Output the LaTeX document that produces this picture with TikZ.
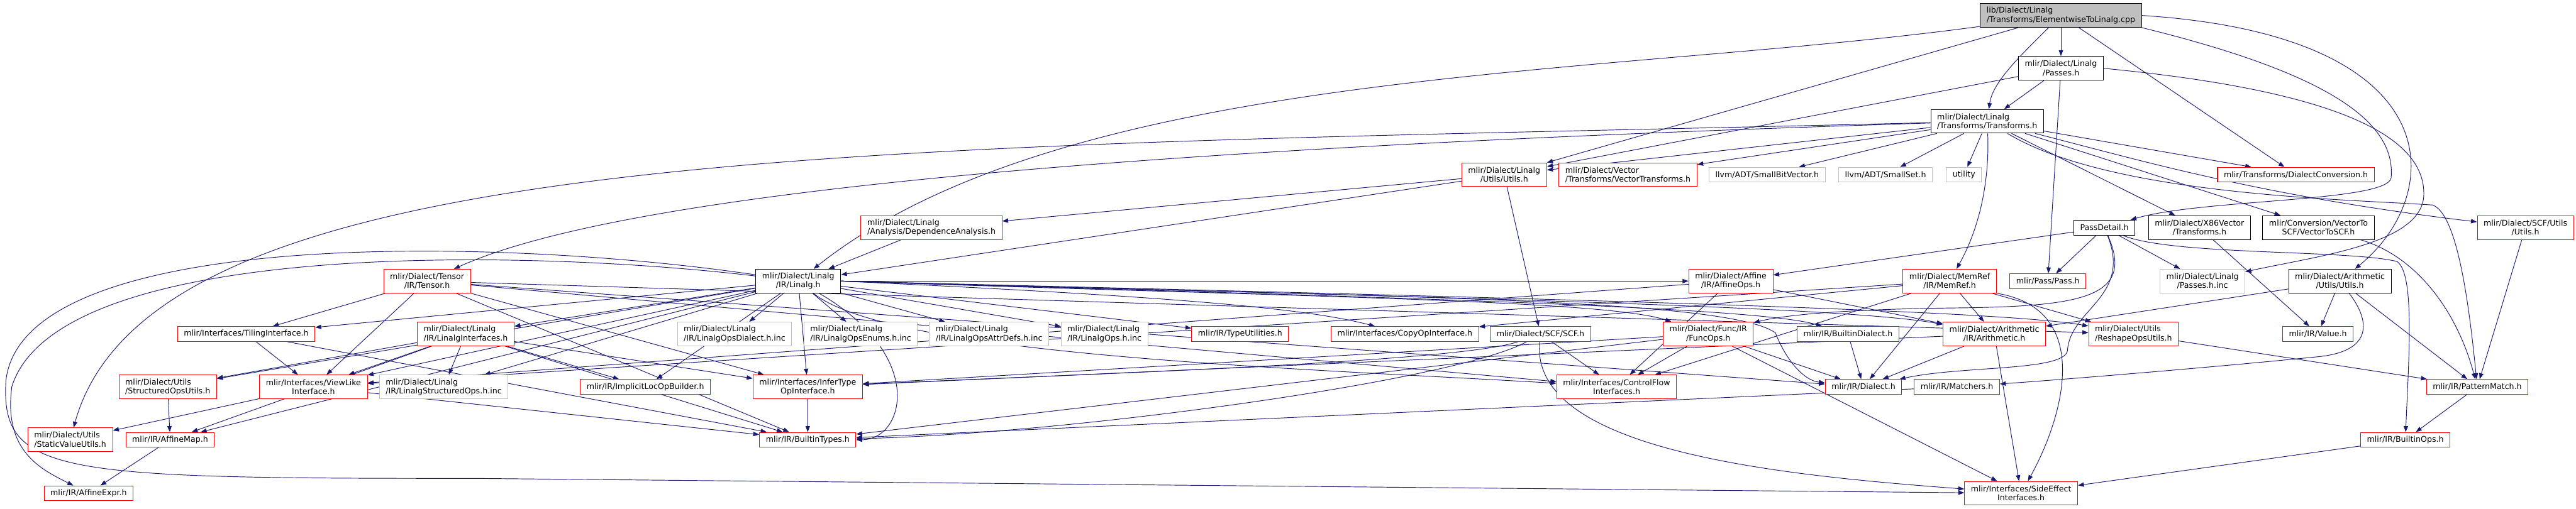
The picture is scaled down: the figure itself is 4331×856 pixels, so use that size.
\documentclass[tikz,border=0pt]{standalone}
\usepackage{fontspec}
\setmainfont{DejaVu Sans}
\usetikzlibrary{arrows.meta,backgrounds}
\definecolor{edgeblue}{HTML}{191970}
\definecolor{incred}{HTML}{FF0000}
\definecolor{sysgray}{HTML}{BFBFBF}

\begin{document}
\begin{tikzpicture}[
    x=0.75pt, y=-0.75pt,
    hfile/.style={draw=incred, line width=0.8pt, fill=white, inner xsep=8pt,
                  inner ysep=2pt, minimum height=18.75pt, align=center,
                  font=\fontsize{10}{11.25}\selectfont},
    hdone/.style={hfile, draw=black},
    hsys/.style={hfile, draw=sysgray},
    hroot/.style={hfile, draw=black, fill=sysgray},
    two/.style={minimum height=30pt},
    dep/.style={edgeblue, line width=0.75pt, -{Triangle[length=7.5pt, width=5.5pt]}},
]
\useasboundingbox (0,0) rectangle (4331,856);

% ---- top rows: the file and its direct includes ----
\node[hroot, two, align=left] (root) at (3465,26) {lib/Dialect/Linalg\\/Transforms/ElementwiseToLinalg.cpp};
\node[hdone, two] (passes) at (3465,115) {mlir/Dialect/Linalg\\/Passes.h};
\node[hdone, two, align=left] (xforms) at (3341,204) {mlir/Dialect/Linalg\\/Transforms/Transforms.h};
\node[hfile, two] (lutils) at (2529,294) {mlir/Dialect/Linalg\\/Utils/Utils.h};
\node[hfile, two, align=left] (vtrans) at (2737,294) {mlir/Dialect/Vector\\/Transforms/VectorTransforms.h};
\node[hsys] (sbv) at (2971,294) {llvm/ADT/SmallBitVector.h};
\node[hsys] (sset) at (3170,294) {llvm/ADT/SmallSet.h};
\node[hsys] (util) at (3302,294) {utility};
\node[hfile] (dconv) at (3860,294) {mlir/Transforms/DialectConversion.h};
\node[hfile, two, align=left] (deps) at (1566,383) {mlir/Dialect/Linalg\\/Analysis/DependenceAnalysis.h};
\node[hdone] (pdetail) at (3538,383) {PassDetail.h};
\node[hdone, two] (x86) at (3698,383) {mlir/Dialect/X86Vector\\/Transforms.h};
\node[hdone, two] (v2scf) at (3898,383) {mlir/Conversion/VectorTo\\SCF/VectorToSCF.h};
\node[hfile, two] (scfutils) at (4246,383) {mlir/Dialect/SCF/Utils\\/Utils.h};

% ---- middle rows ----
\node[hfile, two] (tensor) at (718,473) {mlir/Dialect/Tensor\\/IR/Tensor.h};
\node[hdone, two] (linalg) at (1342,473) {mlir/Dialect/Linalg\\/IR/Linalg.h};
\node[hfile, two] (affops) at (2910,473) {mlir/Dialect/Affine\\/IR/AffineOps.h};
\node[hfile, two] (memref) at (3278,473) {mlir/Dialect/MemRef\\/IR/MemRef.h};
\node[hfile] (pass) at (3443,473) {mlir/Pass/Pass.h};
\node[hsys, two] (passinc) at (3703,473) {mlir/Dialect/Linalg\\/Passes.h.inc};
\node[hdone, two] (autils) at (3934,473) {mlir/Dialect/Arithmetic\\/Utils/Utils.h};

\node[hfile] (tiling) at (414,562) {mlir/Interfaces/TilingInterface.h};
\node[hfile, two, align=left] (linterf) at (783,562) {mlir/Dialect/Linalg\\/IR/LinalgInterfaces.h};
\node[hsys, two, align=left] (opsdial) at (1235,562) {mlir/Dialect/Linalg\\/IR/LinalgOpsDialect.h.inc};
\node[hsys, two, align=left] (opsenum) at (1447,562) {mlir/Dialect/Linalg\\/IR/LinalgOpsEnums.h.inc};
\node[hsys, two, align=left] (opsattr) at (1663,562) {mlir/Dialect/Linalg\\/IR/LinalgOpsAttrDefs.h.inc};
\node[hsys, two, align=left] (opsinc) at (1857,562) {mlir/Dialect/Linalg\\/IR/LinalgOps.h.inc};
\node[hfile] (typeutil) at (2085,562) {mlir/IR/TypeUtilities.h};
\node[hfile] (copyop) at (2362,562) {mlir/Interfaces/CopyOpInterface.h};
\node[hfile] (scf) at (2590,562) {mlir/Dialect/SCF/SCF.h};
\node[hfile, two] (funcops) at (2872,562) {mlir/Dialect/Func/IR\\/FuncOps.h};
\node[hfile] (bdial) at (3107,562) {mlir/IR/BuiltinDialect.h};
\node[hfile, two] (arith) at (3353,562) {mlir/Dialect/Arithmetic\\/IR/Arithmetic.h};
\node[hfile, two, align=left] (reshape) at (3587,562) {mlir/Dialect/Utils\\/ReshapeOpsUtils.h};
\node[hfile] (value) at (3897,562) {mlir/IR/Value.h};

% ---- bottom rows ----
\node[hfile, two, align=left] (sou) at (282,651) {mlir/Dialect/Utils\\/StructuredOpsUtils.h};
\node[hfile, two] (viewlike) at (527,651) {mlir/Interfaces/ViewLike\\Interface.h};
\node[hsys, two, align=left] (structinc) at (746,651) {mlir/Dialect/Linalg\\/IR/LinalgStructuredOps.h.inc};
\node[hfile] (implicit) at (1085,651) {mlir/IR/ImplicitLocOpBuilder.h};
\node[hfile, two] (itype) at (1358,651) {mlir/Interfaces/InferType\\OpInterface.h};
\node[hfile, two] (cflow) at (2718,651) {mlir/Interfaces/ControlFlow\\Interfaces.h};
\node[hfile] (dialect) at (3133,651) {mlir/IR/Dialect.h};
\node[hfile] (matchers) at (3290,651) {mlir/IR/Matchers.h};
\node[hfile] (pmatch) at (4165,651) {mlir/IR/PatternMatch.h};

\node[hfile, two, align=left] (svu) at (118,740) {mlir/Dialect/Utils\\/StaticValueUtils.h};
\node[hfile] (amap) at (286,740) {mlir/IR/AffineMap.h};
\node[hfile] (btypes) at (1358,740) {mlir/IR/BuiltinTypes.h};
\node[hfile] (bops) at (4044,740) {mlir/IR/BuiltinOps.h};
\node[hfile] (aexpr) at (149,830) {mlir/IR/AffineExpr.h};
\node[hfile, two] (sideeff) at (3398,830) {mlir/Interfaces/SideEffect\\Interfaces.h};

% ---- include edges ----
\begin{scope}[on background layer]
\foreach \a/\b in {root/passes, root/lutils, root/dconv,
    passes/xforms, passes/lutils, passes/pass,
    xforms/sbv, xforms/sset, xforms/util, xforms/lutils, xforms/vtrans,
    xforms/x86, xforms/v2scf, xforms/dconv,
    pdetail/affops, pdetail/pass, pdetail/passinc,
    x86/value, scfutils/pmatch, autils/arith, autils/value, autils/pmatch,
    pmatch/bops, bops/sideeff,
    lutils/deps, lutils/linalg, lutils/scf, deps/linalg,
    scf/cflow, tensor/tiling, tensor/viewlike, tensor/itype, tensor/cflow,
    tensor/reshape, tensor/dialect, tensor/btypes,
    linalg/linterf, linalg/opsdial, linalg/opsenum, linalg/opsattr,
    linalg/opsinc, linalg/structinc, linalg/typeutil, linalg/implicit,
    linalg/itype, linalg/viewlike, linalg/tiling, linalg/sou, linalg/amap,
    linalg/affops,
    linterf/structinc, linterf/sou, linterf/viewlike, linterf/implicit,
    linterf/itype, linterf/btypes, linterf/amap,
    tiling/viewlike, tiling/btypes, sou/amap, viewlike/svu, viewlike/btypes,
    amap/aexpr, itype/btypes,
    affops/cflow, affops/arith, affops/viewlike,
    memref/copyop, memref/viewlike, memref/reshape, memref/arith,
    memref/dialect, memref/cflow,
    funcops/cflow, funcops/itype, funcops/btypes, funcops/dialect,
    funcops/sideeff, bdial/dialect, arith/dialect, arith/sideeff,
    arith/itype, reshape/pmatch, matchers/btypes}
    \draw[dep] (\a) -- (\b);

% routed edges
\draw[dep] (root) .. controls (3390,100) and (3350,140) .. (xforms);
\draw[dep] (root) .. controls (2700,130) and (1800,110) .. (linalg);
\draw[dep] (root.east) .. controls (4130,60) and (4110,330) .. (autils);
\draw[dep] (root.south east) .. controls (3900,120) and (4030,200) .. (4020,300)
    .. controls (4010,340) and (3700,335) .. (pdetail);
\draw[dep] (passes.east) .. controls (3900,150) and (4080,220) .. (4075,330)
    .. controls (4070,410) and (3900,430) .. (passinc);
\draw[dep] (xforms) .. controls (2200,240) and (1100,300) .. (tensor);
\draw[dep] (xforms) .. controls (1500,250) and (260,230) .. (svu);
\draw[dep] (xforms) .. controls (3345,300) and (3330,380) .. (memref);
\draw[dep] (xforms) .. controls (3600,270) and (3800,330) .. (scfutils);
\draw[dep] (xforms) .. controls (3550,330) and (3950,335) .. (4090,345)
    .. controls (4130,360) and (4150,500) .. (pmatch);
\draw[dep] (v2scf) .. controls (4060,430) and (4130,520) .. (pmatch);
\draw[dep] (pdetail) .. controls (3590,500) and (3500,515) .. (3300,518)
    .. controls (3100,520) and (3000,530) .. (funcops);
\draw[dep] (pdetail) .. controls (3585,500) and (3480,520) .. (3476,590)
    .. controls (3470,625) and (3300,615) .. (dialect);
\draw[dep] (pdetail) .. controls (3650,430) and (3950,420) .. (4030,440)
    .. controls (4060,460) and (4050,600) .. (bops);
\draw[dep] (autils) .. controls (3985,540) and (3990,590) .. (3900,600)
    .. controls (3700,620) and (3450,640) .. (matchers);
\draw[dep] (memref.south east) .. controls (3520,520) and (3470,700) .. (sideeff);
\draw[dep] (scf) .. controls (2450,610) and (1800,630) .. (itype);
\draw[dep] (scf) .. controls (2450,640) and (1800,730) .. (btypes);
\draw[dep] (scf) .. controls (2570,760) and (3000,800) .. (sideeff);
\draw[dep] (linalg) .. controls (900,420) and (100,400) .. (20,650)
    .. controls (5,760) and (70,790) .. (aexpr);
\draw[dep] (linalg) .. controls (850,400) and (40,380) .. (10,640)
    .. controls (0,800) and (100,805) .. (800,805) -- (sideeff);
\draw[dep] (linalg) .. controls (1560,600) and (1520,740) .. (btypes);
\draw[dep] (linalg.east) .. controls (2000,500) and (2200,520) .. (copyop);
\draw[dep] (linalg) .. controls (1500,600) and (2200,620) .. (cflow);
\draw[dep] (linalg.east) .. controls (2200,500) and (2700,505) .. (funcops);
\draw[dep] (linalg.east) .. controls (2300,500) and (2950,515) .. (bdial);
\draw[dep] (linalg.east) .. controls (2400,500) and (3100,515) .. (arith);
\draw[dep] (linalg.east) .. controls (2500,500) and (3350,520) .. (reshape);
\draw[dep] (linalg.east) .. controls (2300,500) and (2900,500) .. (2985,560)
    .. controls (3000,600) and (3030,640) .. (dialect);
\end{scope}
\end{tikzpicture}
\end{document}
